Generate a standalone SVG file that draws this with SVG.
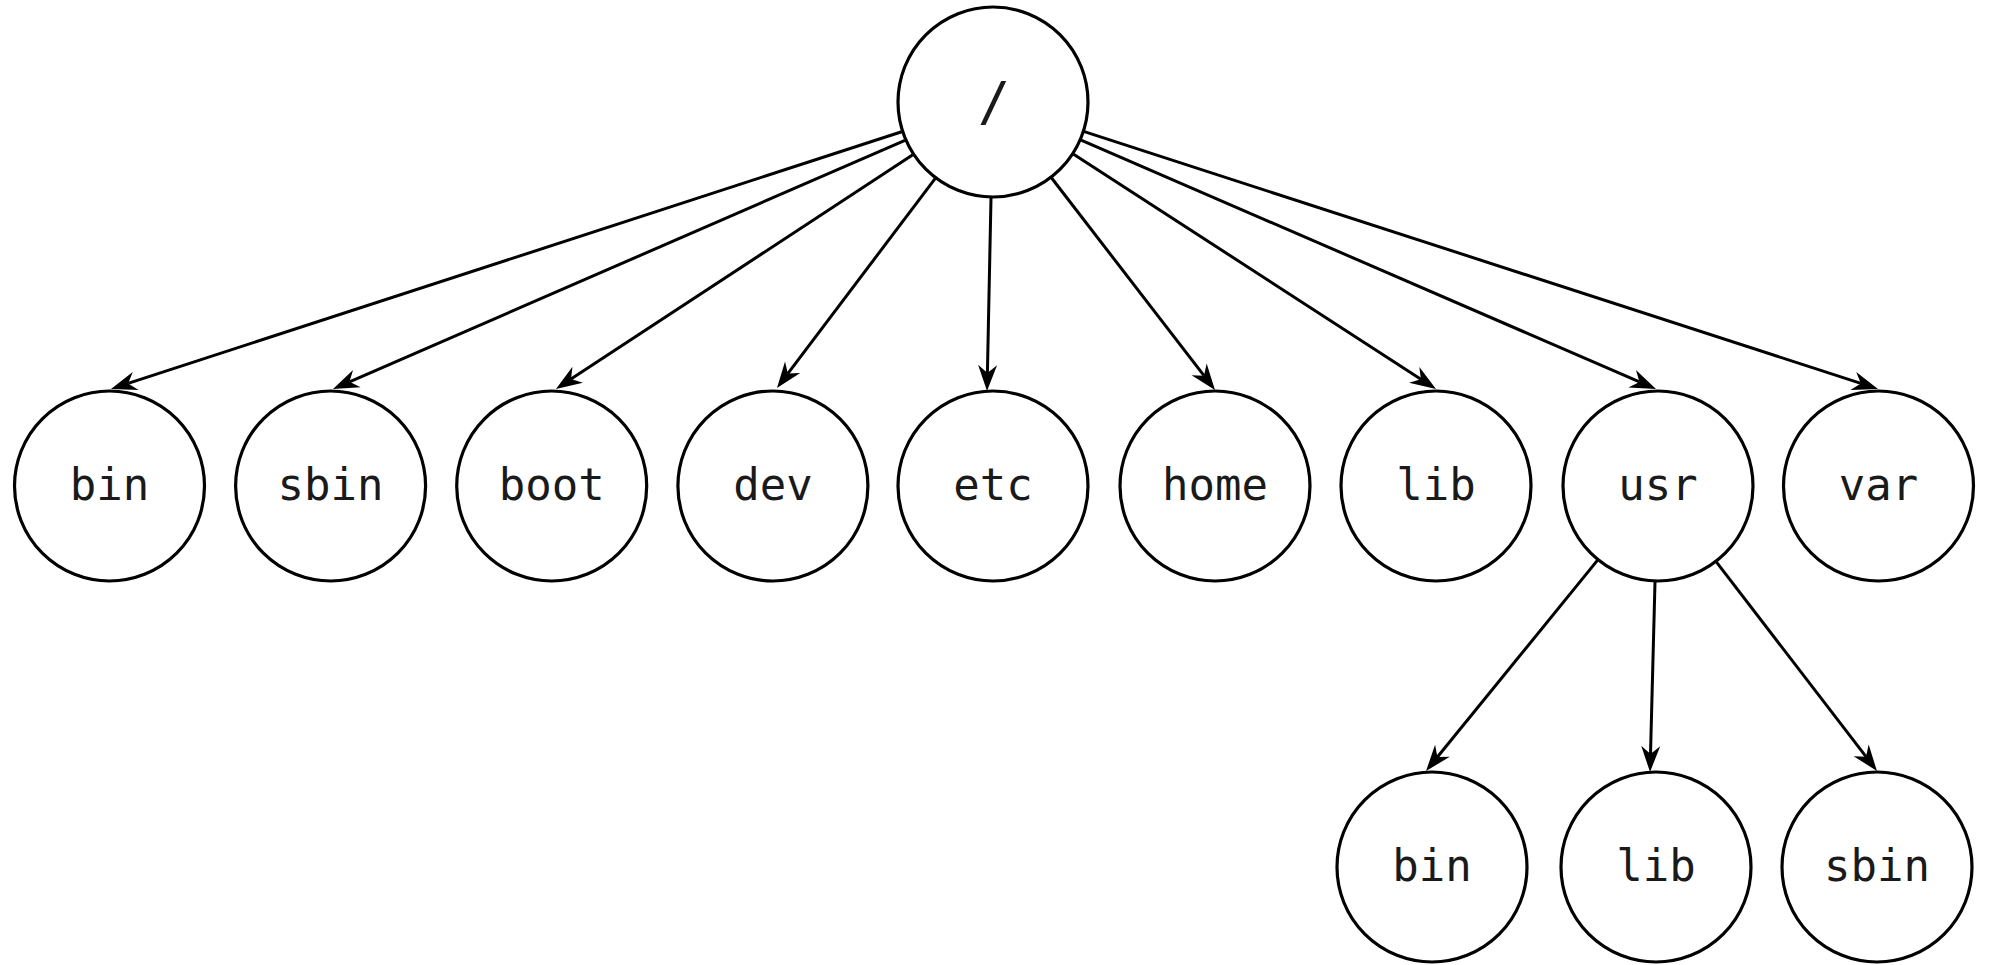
<svg xmlns="http://www.w3.org/2000/svg" width="1991" height="965" viewBox="0 0 1991 965">
<style>
.n circle{fill:#fff;stroke:#000;stroke-width:3.2}
.n text{font-family:"DejaVu Sans Mono","Liberation Mono",monospace;font-size:44px;text-anchor:middle;fill:#1a1a1a}
.e line{stroke:#000;stroke-width:3;marker-end:url(#arr)}
</style>
<defs>
<marker id="arr" markerUnits="userSpaceOnUse" markerWidth="40" markerHeight="40" viewBox="-10 -20 40 40" refX="0" refY="0" orient="auto" overflow="visible">
<path d="M18,0 L-8,-9.5 L0,0 L-8,9.5 Z" fill="#000"/>
</marker>
</defs>
<rect width="1991" height="965" fill="#fff"/>
<g id="connectors" class="e">
<line x1="901.7" y1="131.7" x2="128.1" y2="383.4"/>
<line x1="905.0" y1="140.3" x2="349.5" y2="381.8"/>
<line x1="912.8" y1="154.7" x2="571.0" y2="379.1"/>
<line x1="935.1" y1="178.6" x2="787.8" y2="373.6"/>
<line x1="991" y1="198" x2="987.4" y2="373.0"/>
<line x1="1051.6" y1="178.0" x2="1204.0" y2="375.7"/>
<line x1="1073.6" y1="154.2" x2="1420.9" y2="379.2"/>
<line x1="1081.1" y1="140.1" x2="1639.5" y2="381.9"/>
<line x1="1084.3" y1="131.6" x2="1860.9" y2="383.4"/>
<line x1="1597.4" y1="560.4" x2="1437.4" y2="757.0"/>
<line x1="1655" y1="582" x2="1650.5" y2="754.0"/>
<line x1="1716.5" y1="562.1" x2="1866.0" y2="756.7"/>
</g>
<g id="root" class="n"><circle cx="993" cy="102" r="95"/><text x="994" y="120" style="font-size:54px">/</text></g>
<g id="bin" class="n"><circle cx="109.5" cy="486" r="95"/><text x="109.5" y="500">bin</text></g>
<g id="sbin" class="n"><circle cx="330.6" cy="486" r="95"/><text x="330.6" y="500">sbin</text></g>
<g id="boot" class="n"><circle cx="551.7" cy="486" r="95"/><text x="551.7" y="500">boot</text></g>
<g id="dev" class="n"><circle cx="772.9" cy="486" r="95"/><text x="772.9" y="500">dev</text></g>
<g id="etc" class="n"><circle cx="993" cy="486" r="95"/><text x="993" y="500">etc</text></g>
<g id="home" class="n"><circle cx="1215" cy="486" r="95"/><text x="1215" y="500">home</text></g>
<g id="lib" class="n"><circle cx="1436" cy="486" r="95"/><text x="1436" y="500">lib</text></g>
<g id="usr" class="n"><circle cx="1658" cy="486" r="95"/><text x="1658" y="500">usr</text></g>
<g id="var" class="n"><circle cx="1878.5" cy="486" r="95"/><text x="1878.5" y="500">var</text></g>
<g id="usr-bin" class="n"><circle cx="1432" cy="867" r="95"/><text x="1432" y="881">bin</text></g>
<g id="usr-lib" class="n"><circle cx="1656" cy="867" r="95"/><text x="1656" y="881">lib</text></g>
<g id="usr-sbin" class="n"><circle cx="1877" cy="867" r="95"/><text x="1877" y="881">sbin</text></g>
</svg>
